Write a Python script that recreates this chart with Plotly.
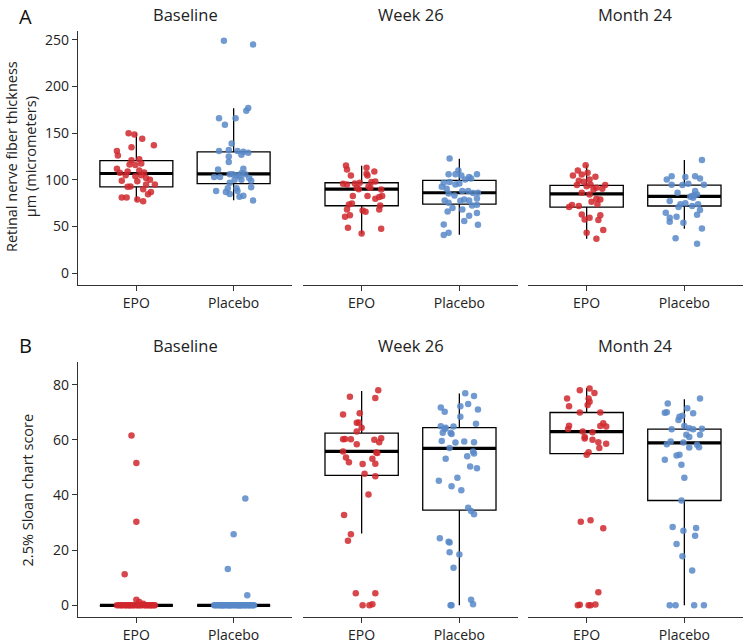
import plotly.graph_objects as go

# === 1. Data ===
visits = ["Baseline", "Week 26", "Month 24"]
arms = ["EPO", "Placebo"]

# Panel A - retinal nerve fiber thickness (µm), box stats ordered visit x arm
rnfl_low = [77.5, 78.3, 42.0, 41.3, 37.0, 47.7]
rnfl_q1 = [92.6, 96.0, 72.3, 74.1, 70.9, 72.0]
rnfl_med = [106.8, 106.5, 90.1, 86.2, 85.1, 82.3]
rnfl_q3 = [120.7, 130.0, 96.9, 99.4, 94.0, 94.4]
rnfl_high = [149.8, 176.6, 115.0, 122.5, 115.7, 121.4]

rnfl_base_epo = [150, 148.5, 144, 135, 137, 131, 126, 122, 121, 117.5, 116.5, 116, 112, 110,
                 109, 107.5, 105, 108, 105, 104, 102, 99, 98.5, 100, 93, 92.5, 95, 95, 90, 87,
                 84.5, 81, 81, 77, 79]
rnfl_base_epo_jit = [-0.08, -0.02, 0.06, -0.05, 0.18, -0.2, -0.19, 0.03, -0.05, 0.05, -0.07,
                     -0.01, -0.2, 0.03, -0.09, -0.17, -0.11, 0.08, 0.05, -0.01, 0.1, -0.15,
                     0.01, 0.14, -0.06, -0.09, 0.19, 0.1, 0.07, 0.15, 0.12, -0.15, -0.1, 0.07, 0.01]
rnfl_base_pla = [249, 245, 177, 174, 166, 166, 159, 139, 131, 132, 131, 130, 129, 127, 125, 119,
                 112, 111, 107, 106, 103, 103, 106, 106, 105, 104, 102, 100, 100, 99, 97, 92, 91,
                 91, 88, 87, 85, 88, 82, 83, 78]
rnfl_base_pla_jit = [-0.1, 0.2, 0.15, 0.13, -0.15, 0.02, -0.09, -0.02, -0.15, -0.05, 0.04, 0.1,
                     0.15, 0.08, -0.05, -0.05, 0.1, -0.16, 0.08, 0.12, -0.2, -0.14, -0.04, -0.01,
                     0.03, 0.06, 0.16, 0.01, 0.08, 0.18, -0.04, 0.18, -0.06, 0.03, -0.18, -0.08,
                     -0.04, 0.04, 0.06, 0.1, 0.2]
rnfl_w26_epo = [115.4, 111, 113, 106.5, 104.7, 104.7, 109, 95.8, 95, 96, 97, 97.6, 98.3, 93,
                91.5, 91.5, 90, 89.7, 82.6, 82.6, 79.8, 81.6, 82.6, 74.8, 73.7, 68.4, 67.3, 65.9,
                72.6, 68.4, 62, 60.5, 48.8, 47.7, 42.7]
rnfl_w26_epo_jit = [-0.16, -0.15, 0.05, 0.05, 0.06, -0.11, 0.13, -0.19, -0.15, -0.07, -0.02,
                    0.1, 0.14, 0.07, 0.09, -0.05, -0.03, 0.2, -0.09, 0.06, 0.14, 0.18, 0.21,
                    -0.1, -0.13, -0.15, 0.01, 0.04, 0.19, 0.18, -0.12, -0.17, -0.14, 0.2, 0.0]
rnfl_w26_pla = [122.9, 110, 106, 106, 104.7, 106, 103, 101.5, 100.4, 92.6, 97, 97.6, 95, 96,
                86.2, 90.5, 85.5, 83.3, 88, 88, 86, 78, 75.5, 77.6, 79, 78, 80, 72.6, 73.4, 70,
                66, 61.6, 64.5, 56, 52.3, 52, 43.4, 41, 68.4]
rnfl_w26_pla_jit = [-0.1, -0.01, -0.11, -0.04, 0.02, 0.18, 0.1, 0.12, 0.06, -0.18, -0.16, -0.1,
                    -0.04, 0.0, 0.19, -0.13, -0.11, -0.05, 0.03, 0.09, 0.14, -0.15, -0.11, 0.01,
                    0.05, 0.1, 0.18, 0.13, 0.18, -0.07, -0.12, 0.1, 0.18, 0.05, -0.16, 0.19,
                    -0.11, -0.16, 0.03]
rnfl_m24_epo = [115.7, 110, 105.8, 104.7, 107.5, 103.3, 100.4, 99, 97.9, 94.4, 93.3, 94.7, 94.4,
                90.5, 91.5, 89.7, 86.2, 84.4, 79.8, 79, 76.6, 74, 73, 70.9, 72, 63, 62, 59.5,
                57.7, 57, 46.3, 43.4, 37]
rnfl_m24_epo_jit = [-0.01, -0.09, -0.05, -0.14, 0.01, 0.09, 0.03, -0.08, -0.03, -0.1, 0.0, 0.04,
                    0.19, 0.16, 0.1, 0.07, -0.05, 0.03, 0.1, 0.14, 0.05, 0.11, -0.15, -0.18,
                    -0.08, -0.05, 0.14, 0.03, -0.02, 0.12, 0.17, 0.0, 0.1]
rnfl_m24_pla = [121.4, 104, 100.4, 103, 104, 101.5, 94.7, 94.4, 95.8, 94.7, 86.2, 82.6, 88, 84.4,
                80.8, 77.3, 74, 75, 74, 72, 64.8, 59.5, 60.5, 67.7, 62.7, 55.2, 54, 48, 37.4,
                31.7, 82, 83.5, 71]
rnfl_m24_pla_jit = [0.18, -0.13, -0.18, 0.01, 0.11, 0.16, -0.13, -0.02, 0.04, 0.2, -0.07, 0.08,
                    0.11, 0.13, 0.09, -0.15, -0.04, 0.01, 0.14, 0.08, -0.19, -0.15, -0.08, 0.16,
                    0.13, -0.15, -0.01, 0.18, -0.09, 0.13, 0.06, 0.1, -0.06]

# Panel B - 2.5% Sloan chart score, box stats ordered visit x arm
sloan_low = [0, 0, 26.0, 0, 54.6, 0]
sloan_q1 = [0, 0, 47.1, 34.5, 55.0, 38.0]
sloan_med = [0, 0, 55.8, 56.9, 63.0, 58.9]
sloan_q3 = [0, 0, 62.4, 64.4, 69.9, 63.9]
sloan_high = [0, 0, 77.7, 76.8, 78.8, 74.7]

sloan_base_epo = [61.6, 51.6, 30.3, 11.3, 2, 1.2, 0.6] + [0] * 26
sloan_base_epo_jit = [-0.05, 0.0, 0.0, -0.12, 0.0, 0.03, 0.07,
                      -0.2, -0.18, -0.16, -0.15, -0.13, -0.11, -0.1, -0.08, -0.06, -0.04, -0.03,
                      -0.01, 0.01, 0.02, 0.04, 0.05, 0.08, 0.09, 0.11, 0.12, 0.14, 0.15, 0.16,
                      0.18, 0.19, -0.07]
sloan_base_pla = [38.7, 25.8, 13.2, 3.6] + [0] * 34
sloan_base_pla_jit = [0.12, 0.0, -0.06, 0.14,
                      -0.2, -0.19, -0.17, -0.16, -0.14, -0.13, -0.12, -0.1, -0.09, -0.07, -0.06,
                      -0.04, -0.03, -0.02, 0.0, 0.01, 0.03, 0.04, 0.05, 0.07, 0.08, 0.09, 0.11,
                      0.12, 0.13, 0.15, 0.16, 0.17, 0.19, 0.2, 0.21, -0.11, 0.06, -0.05]
sloan_w26_epo = [78, 75.6, 75.2, 69.2, 69.6, 66.2, 66.3, 64.4, 63, 60.2, 60.3, 60.2, 60, 60.6,
                 59.1, 55.8, 58.4, 55.4, 55.2, 53.6, 51.9, 51.2, 53.1, 51.3, 47.7, 46.8, 40.2,
                 32.7, 25.8, 23.4, 4.4, 4.4, 0, 0, 0.4]
sloan_w26_epo_jit = [0.17, -0.12, 0.14, -0.19, -0.02, -0.05, -0.03, 0.0, -0.05, -0.19, -0.17,
                     -0.11, 0.13, 0.2, 0.18, -0.19, -0.05, 0.15, 0.16, -0.16, -0.13, 0.01, 0.11,
                     0.14, 0.03, 0.14, 0.07, -0.18, -0.11, -0.14, -0.06, 0.14, 0.01, 0.08, 0.11]
sloan_w26_pla = [76.9, 75.9, 71.7, 70.2, 72.2, 73, 71, 68.4, 65.8, 64.9, 64.4, 64.8, 62.6, 59.6,
                 63.9, 62.6, 62.1, 59, 59.4, 59.1, 57, 55.8, 55, 54, 53.1, 50.3, 49.7, 45.2, 46.2,
                 43.2, 41.7, 35.4, 34.2, 33, 24.3, 23, 22.8, 19.2, 18.4, 13.6, 2, 0.4, 0, 0]
sloan_w26_pla_jit = [0.06, 0.15, -0.19, -0.15, 0.01, 0.09, 0.19, 0.01, 0.17, -0.19, -0.14, -0.06,
                     -0.17, -0.18, -0.15, -0.09, -0.08, -0.04, 0.05, 0.15, -0.1, 0.14, 0.15, 0.08,
                     -0.14, 0.11, 0.18, -0.21, -0.02, -0.08, 0.02, 0.09, 0.12, 0.15, -0.2, -0.11,
                     -0.1, -0.1, 0.0, -0.06, 0.12, 0.14, -0.09, -0.08]
sloan_m24_epo = [78, 78.6, 77, 75, 72.2, 75, 73.8, 72.6, 69.9, 69.9, 65.1, 63.9, 65, 66, 64.8,
                 63, 62.7, 61, 60, 59.1, 58.6, 57, 60.5, 55.5, 54.6, 30.3, 30.8, 27.9, 4.7, 0,
                 0.2, 0, 0, 0.3]
sloan_m24_epo_jit = [-0.07, 0.03, 0.08, -0.2, -0.18, 0.02, 0.03, 0.01, -0.07, 0.14, -0.18, -0.19,
                     0.14, 0.17, 0.2, -0.04, 0.06, -0.02, 0.06, 0.12, 0.2, 0.13, -0.02, 0.02, 0.0,
                     -0.06, 0.04, 0.17, 0.12, -0.09, -0.07, 0.02, 0.04, 0.09]
sloan_m24_pla = [75, 73.2, 71.4, 69.8, 70, 68.4, 68.7, 69.6, 67.2, 65, 63.8, 64.2, 63.8, 64,
                 61.8, 61, 61.8, 59.4, 58.4, 59, 58.2, 57.2, 57.3, 54.3, 54.6, 52.8, 51, 46.2, 38,
                 28.4, 27, 28, 25.2, 22.2, 17.8, 12.6, 0, 0, 0, 0]
sloan_m24_pla_jit = [0.16, -0.17, 0.03, -0.2, -0.18, -0.05, -0.02, 0.09, -0.06, 0.0, -0.13, 0.05,
                     0.09, 0.18, 0.02, 0.05, 0.16, -0.14, -0.18, -0.01, 0.13, 0.05, 0.15, -0.08,
                     -0.05, -0.2, -0.03, 0.0, -0.03, -0.12, -0.01, 0.12, 0.11, -0.08, -0.02, 0.08,
                     -0.15, -0.09, 0.1, 0.2]

rnfl_points = [(rnfl_base_epo, rnfl_base_epo_jit), (rnfl_base_pla, rnfl_base_pla_jit),
               (rnfl_w26_epo, rnfl_w26_epo_jit), (rnfl_w26_pla, rnfl_w26_pla_jit),
               (rnfl_m24_epo, rnfl_m24_epo_jit), (rnfl_m24_pla, rnfl_m24_pla_jit)]
sloan_points = [(sloan_base_epo, sloan_base_epo_jit), (sloan_base_pla, sloan_base_pla_jit),
                (sloan_w26_epo, sloan_w26_epo_jit), (sloan_w26_pla, sloan_w26_pla_jit),
                (sloan_m24_epo, sloan_m24_epo_jit), (sloan_m24_pla, sloan_m24_pla_jit)]

# === 2. Layout geometry (pixels of the 745x644 page) ===
W, H = 745, 644
col_px = [(78, 292), (303, 518), (528, 743)]
row_px = [(30, 286), (363, 620)]
y_ranges = [[-12.8, 259.6], [-4.3, 88.3]]
y_ticks = [[0, 50, 100, 150, 200, 250], [0, 20, 40, 60, 80]]
arm_colors = ["rgba(208,40,46,0.85)", "rgba(88,136,200,0.85)"]
AX = "#333333"
FONT = "Open Sans"


def px_x(x):
    return x / W


def px_y(y):
    return 1 - y / H


rows = [
    dict(low=rnfl_low, q1=rnfl_q1, med=rnfl_med, q3=rnfl_q3, high=rnfl_high, pts=rnfl_points),
    dict(low=sloan_low, q1=sloan_q1, med=sloan_med, q3=sloan_q3, high=sloan_high, pts=sloan_points),
]

fig = go.Figure()
layout = {}
annotations = []

for r, row in enumerate(rows):
    for c, visit in enumerate(visits):
        idx = r * 3 + c + 1
        sfx = "" if idx == 1 else str(idx)
        xa, ya = "x" + sfx, "y" + sfx
        for a, arm in enumerate(arms):
            g = c * 2 + a
            pos = a + 1
            # box body
            fig.add_trace(go.Box(
                x=[pos], q1=[row["q1"][g]], median=[row["med"][g]], q3=[row["q3"][g]],
                lowerfence=[row["low"][g]], upperfence=[row["high"][g]],
                width=0.75, whiskerwidth=0, boxpoints=False,
                fillcolor="white", line=dict(color="black", width=1.3),
                xaxis=xa, yaxis=ya, showlegend=False, hoverinfo="skip"))
            # thick median bar
            m = row["med"][g]
            fig.add_trace(go.Box(
                x=[pos], q1=[m], median=[m], q3=[m], lowerfence=[m], upperfence=[m],
                width=0.75, whiskerwidth=0, boxpoints=False,
                fillcolor="rgba(0,0,0,0)", line=dict(color="black", width=3.2),
                xaxis=xa, yaxis=ya, showlegend=False, hoverinfo="skip"))
        for a, arm in enumerate(arms):
            vals, jit = row["pts"][c * 2 + a]
            fig.add_trace(go.Scatter(
                x=[a + 1 + j for j in jit], y=vals, mode="markers",
                marker=dict(size=6.5, color=arm_colors[a], line=dict(width=0)),
                xaxis=xa, yaxis=ya, showlegend=False, hoverinfo="skip"))

        x0, x1 = col_px[c]
        y0, y1 = row_px[r]
        layout["xaxis" + sfx] = dict(
            domain=[px_x(x0), px_x(x1)], anchor=ya, range=[0.4, 2.6],
            tickvals=[1, 2], ticktext=arms, showline=True, linecolor=AX, linewidth=1.2,
            ticks="outside", ticklen=5, tickcolor=AX, tickwidth=1.2,
            showgrid=False, zeroline=False, fixedrange=True,
            tickfont=dict(family=FONT, size=14, color="#222"))
        layout["yaxis" + sfx] = dict(
            domain=[px_y(y1), px_y(y0)], anchor=xa, range=y_ranges[r],
            tickvals=y_ticks[r], showline=(c == 0), showticklabels=(c == 0),
            ticks="outside" if c == 0 else "", ticklen=5, tickcolor=AX, tickwidth=1.2,
            linecolor=AX, linewidth=1.2, showgrid=False, zeroline=False, fixedrange=True,
            tickfont=dict(family=FONT, size=14, color="#222"))
        annotations.append(dict(
            text=visit, xref="paper", yref="paper", x=px_x((x0 + x1) / 2),
            y=px_y(y0 - 16), xanchor="center", yanchor="middle", showarrow=False,
            font=dict(family=FONT, size=16.5, color="#222")))

# panel letters
annotations.append(dict(
    text="A", x=px_x(26), y=1, xref="paper", yref="paper", xanchor="center",
    yanchor="top", showarrow=False, font=dict(family=FONT, size=20, color="#111")))
annotations.append(dict(
    text="B", x=px_x(26), y=px_y(347), xref="paper", yref="paper", xanchor="center",
    yanchor="middle", showarrow=False, font=dict(family=FONT, size=20, color="#111")))

# y axis titles
annotations += [
    dict(text="Retinal nerve fiber thickness<br>µm (micrometers)", x=px_x(21), y=px_y(157),
         textangle=-90, xref="paper", yref="paper", xanchor="center", yanchor="middle",
         showarrow=False, font=dict(family=FONT, size=14.5, color="#222")),
    dict(text="2.5% Sloan chart score", x=px_x(27.5), y=px_y(492),
         textangle=-90, xref="paper", yref="paper", xanchor="center", yanchor="middle",
         showarrow=False, font=dict(family=FONT, size=14.5, color="#222")),
]

fig.update_layout(
    width=W, height=H,
    margin=dict(l=0, r=0, t=0, b=0),
    paper_bgcolor="white", plot_bgcolor="white",
    annotations=annotations,
    font=dict(family=FONT, color="#222"),
    **layout)

# drop the default 8px page margin so the figure fills the window exactly
fig.write_html("out.html", config={"displayModeBar": False},
               post_script="document.body.style.margin='0';")
